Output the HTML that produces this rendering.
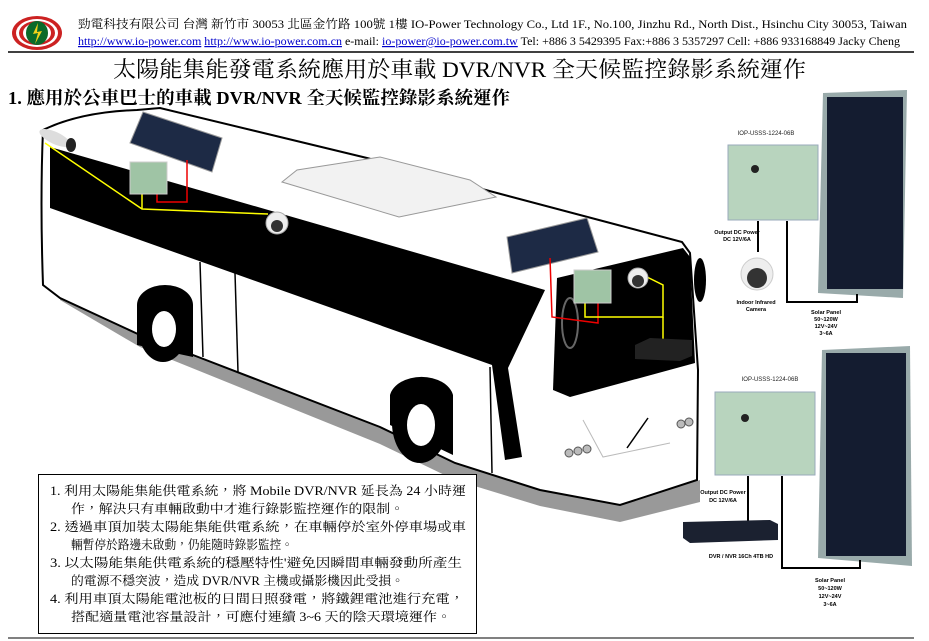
<!DOCTYPE html>
<html><head><meta charset="utf-8"><style>
body{margin:0;background:#fff;width:929px;height:641px;overflow:hidden}
svg{display:block}
.s{font-family:"Liberation Serif","Noto Serif CJK TC",serif}
.a{font-family:"Liberation Sans","Noto Sans CJK TC",sans-serif}
</style></head><body>
<svg width="929" height="641" viewBox="0 0 929 641" xmlns="http://www.w3.org/2000/svg">
<!-- logo -->
<g>
<ellipse cx="37" cy="33" rx="25" ry="17" fill="#c22"/>
<ellipse cx="37" cy="33" rx="21" ry="14" fill="#fff"/>
<ellipse cx="37" cy="33" rx="18" ry="12" fill="#c22"/>
<ellipse cx="37" cy="33" rx="14" ry="10" fill="#fff"/>
<ellipse cx="37" cy="33" rx="11" ry="12" fill="#0a6a2a"/>
<path d="M38 23 L33 34 L38 33 L35 44 L42 31 L37 32 Z" fill="#f3d21a"/>
</g>
<text class="s" x="78" y="28" font-size="12" textLength="829" lengthAdjust="spacingAndGlyphs">勁電科技有限公司  台灣 新竹市 30053 北區金竹路 100號 1樓   IO-Power Technology Co., Ltd    1F., No.100, Jinzhu Rd., North Dist., Hsinchu City 30053, Taiwan</text>
<text class="s" x="78" y="45" font-size="12" textLength="822" lengthAdjust="spacingAndGlyphs"><tspan fill="#00c" text-decoration="underline">http://www.io-power.com</tspan> <tspan fill="#00c" text-decoration="underline">http://www.io-power.com.cn</tspan> e-mail: <tspan fill="#00c" text-decoration="underline">io-power@io-power.com.tw</tspan> Tel: +886 3 5429395 Fax:+886 3 5357297 Cell: +886 933168849   Jacky Cheng</text>
<line x1="8" y1="52" x2="914" y2="52" stroke="#000" stroke-width="1.5"/>
<text class="s" x="113" y="77" font-size="22" textLength="693" lengthAdjust="spacingAndGlyphs">太陽能集能發電系統應用於車載 DVR/NVR 全天候監控錄影系統運作</text>
<text class="s" x="8" y="104" font-size="18" font-weight="bold" textLength="502" lengthAdjust="spacingAndGlyphs">1. 應用於公車巴士的車載 DVR/NVR 全天候監控錄影系統運作</text>

<!-- bus shadow -->
<polygon points="60,300 140,347 380,444 455,480 540,506 620,522 700,502 700,480 620,505 540,490 380,427 140,335 60,297" fill="#999"/>
<!-- bus body -->
<path d="M43,130 Q80,112 137,110 L160,108 L367,158 L497,193 L682,242 L690,253 L698,370 L697,480 L620,505 L540,490 L455,463 L380,427 L193,355 L140,335 L60,298 L43,285 Q40,200 43,130 Z" fill="#fff" stroke="#000" stroke-width="2"/>
<!-- roof hump -->
<polygon points="282,182 297,170 380,157 470,180 496,197 399,217" fill="#f2f2f2" stroke="#999" stroke-width="1"/>
<!-- black window band -->
<polygon points="50,147 545,290 508,368 522,457 505,460 492,365 50,208" fill="#000"/>
<!-- windshield -->
<polygon points="557,278 683,248 690,257 695,363 570,397 553,390" fill="#000"/>
<!-- door lines -->
<line x1="200" y1="262" x2="203" y2="357" stroke="#000" stroke-width="1.5"/>
<line x1="235" y1="273" x2="238" y2="372" stroke="#000" stroke-width="1.5"/>
<line x1="490" y1="367" x2="492" y2="473" stroke="#000" stroke-width="1.5"/>
<!-- wheels -->
<path d="M137 345 L137 305 A28 20 0 0 1 193 305 L193 357 Z" fill="#000"/>
<ellipse cx="163" cy="327" rx="25" ry="35" fill="#000"/>
<ellipse cx="164" cy="329" rx="12" ry="18" fill="#fff"/>
<path d="M390 425 L390 395 A32 22 0 0 1 453 395 L453 455 Z" fill="#000"/>
<ellipse cx="420" cy="423" rx="28" ry="40" fill="#000"/>
<ellipse cx="421" cy="425" rx="14" ry="21" fill="#fff"/>
<!-- mirrors -->
<ellipse cx="570" cy="323" rx="8" ry="25" fill="none" stroke="#666" stroke-width="2"/>
<ellipse cx="700" cy="280" rx="6" ry="22" fill="#000"/>
<!-- front lights -->
<circle cx="569" cy="453" r="4" fill="#bbb" stroke="#555"/><circle cx="578" cy="451" r="4" fill="#bbb" stroke="#555"/><circle cx="587" cy="449" r="4" fill="#bbb" stroke="#555"/>
<circle cx="681" cy="424" r="4" fill="#bbb" stroke="#555"/><circle cx="689" cy="422" r="4" fill="#bbb" stroke="#555"/>
<line x1="627" y1="448" x2="648" y2="418" stroke="#000" stroke-width="1.5"/>
<polyline points="583,420 603,457 670,443" fill="none" stroke="#bbb" stroke-width="1"/>
<!-- solar panels on bus -->
<polygon points="143,112 222,138 212,172 130,143" fill="#1d2a45" stroke="#999"/>
<polygon points="507,237 587,218 598,252 512,273" fill="#1d2a45" stroke="#999"/>
<!-- camera left -->
<ellipse cx="55" cy="138" rx="17" ry="6" fill="#ddd" transform="rotate(25 55 138)"/>
<ellipse cx="71" cy="145" rx="5" ry="7" fill="#222"/>
<!-- wires back -->
<polyline points="45,143 142,209 268,214" fill="none" stroke="#ff0" stroke-width="1.5"/>
<line x1="142" y1="209" x2="142" y2="193" stroke="#ff0" stroke-width="1.5"/>
<polyline points="157,192 157,202 187,202 187,160" fill="none" stroke="#e00" stroke-width="1.5"/>
<rect x="130" y="162" width="37" height="32" fill="#9fc4a5" stroke="#ccc"/>
<circle cx="277" cy="223" r="11" fill="#eee" stroke="#aaa"/><circle cx="277" cy="226" r="6" fill="#333"/>
<!-- wires front -->
<polyline points="550,258 552,317 598,323 598,302" fill="none" stroke="#e00" stroke-width="1.5"/>
<polyline points="585,302 585,317 663,317 663,285 647,277" fill="none" stroke="#ff0" stroke-width="1.5"/>
<line x1="663" y1="317" x2="663" y2="340" stroke="#ff0" stroke-width="1.5"/>
<rect x="574" y="270" width="37" height="33" fill="#9fc4a5" stroke="#ccc"/>
<circle cx="638" cy="278" r="10" fill="#eee" stroke="#aaa"/><circle cx="638" cy="281" r="6" fill="#333"/>
<polygon points="635,345 650,338 692,340 692,356 680,361 635,359" fill="#222"/>

<!-- right top system -->
<polygon points="823,93 907,90 903,298 818,293" fill="#9aa" />
<rect x="827" y="97" width="76" height="192" fill="#141c30"/>
<text class="a" x="766" y="135" font-size="6" text-anchor="middle" fill="#222">IOP-USSS-1224-06B</text>
<rect x="728" y="145" width="90" height="75" fill="#b8d4be" stroke="#9ab"/>
<circle cx="755" cy="169" r="4" fill="#222"/>
<polyline points="758,221 758,252" fill="none" stroke="#000" stroke-width="2"/>
<polyline points="787,221 787,302 857,302 857,294" fill="none" stroke="#000" stroke-width="2"/>
<text class="a" x="737" y="234" font-size="5.5" text-anchor="middle" font-weight="bold">Output DC Power</text>
<text class="a" x="737" y="241" font-size="5.5" text-anchor="middle" font-weight="bold">DC 12V/6A</text>
<circle cx="757" cy="274" r="16" fill="#eee" stroke="#ccc"/><circle cx="757" cy="278" r="10" fill="#333"/>
<text class="a" x="756" y="304" font-size="5.5" text-anchor="middle" font-weight="bold">Indoor Infrared</text>
<text class="a" x="756" y="311" font-size="5.5" text-anchor="middle" font-weight="bold">Camera</text>
<text class="a" x="826" y="314" font-size="5.5" text-anchor="middle" font-weight="bold">Solar Panel</text>
<text class="a" x="826" y="321" font-size="5.5" text-anchor="middle" font-weight="bold">50~120W</text>
<text class="a" x="826" y="328" font-size="5.5" text-anchor="middle" font-weight="bold">12V~24V</text>
<text class="a" x="826" y="335" font-size="5.5" text-anchor="middle" font-weight="bold">3~6A</text>

<!-- right bottom system -->
<polygon points="822,350 910,346 912,566 818,558" fill="#9aa"/>
<rect x="826" y="353" width="80" height="203" fill="#141c30"/>
<text class="a" x="770" y="381" font-size="6" text-anchor="middle" fill="#222">IOP-USSS-1224-06B</text>
<rect x="715" y="392" width="100" height="83" fill="#b8d4be" stroke="#9ab"/>
<circle cx="745" cy="418" r="4" fill="#222"/>
<line x1="748" y1="476" x2="748" y2="522" stroke="#000" stroke-width="2"/>
<polyline points="782,476 782,568 860,568 860,560" fill="none" stroke="#000" stroke-width="2"/>
<text class="a" x="723" y="494" font-size="5.5" text-anchor="middle" font-weight="bold">Output DC Power</text>
<text class="a" x="723" y="502" font-size="5.5" text-anchor="middle" font-weight="bold">DC 12V/6A</text>
<polygon points="683,522 770,520 778,524 778,540 690,543 683,538" fill="#1b2130"/>
<text class="a" x="741" y="558" font-size="5.5" text-anchor="middle" font-weight="bold">DVR / NVR 16Ch 4TB HD</text>
<text class="a" x="830" y="582" font-size="5.5" text-anchor="middle" font-weight="bold">Solar Panel</text>
<text class="a" x="830" y="590" font-size="5.5" text-anchor="middle" font-weight="bold">50~120W</text>
<text class="a" x="830" y="598" font-size="5.5" text-anchor="middle" font-weight="bold">12V~24V</text>
<text class="a" x="830" y="606" font-size="5.5" text-anchor="middle" font-weight="bold">3~6A</text>

<!-- text box -->
<rect x="38.5" y="474.5" width="438" height="159" fill="#fff" stroke="#000"/>
<g class="s" font-size="12.5">
<text x="50" y="495" textLength="416" lengthAdjust="spacingAndGlyphs">1.  利用太陽能集能供電系統，將 Mobile DVR/NVR 延長為 24 小時運</text>
<text x="71" y="513" textLength="333" lengthAdjust="spacingAndGlyphs">作，解決只有車輛啟動中才進行錄影監控運作的限制。</text>
<text x="50" y="531" textLength="416" lengthAdjust="spacingAndGlyphs">2.  透過車頂加裝太陽能集能供電系統，在車輛停於室外停車場或車</text>
<text x="71" y="549" textLength="222" lengthAdjust="spacingAndGlyphs">輛暫停於路邊未啟動，仍能隨時錄影監控。</text>
<text x="50" y="567" textLength="412" lengthAdjust="spacingAndGlyphs">3.  以太陽能集能供電系統的穩壓特性'避免因瞬間車輛發動所產生</text>
<text x="71" y="585" textLength="333" lengthAdjust="spacingAndGlyphs">的電源不穩突波，造成 DVR/NVR 主機或攝影機因此受損。</text>
<text x="50" y="603" textLength="414" lengthAdjust="spacingAndGlyphs">4.  利用車頂太陽能電池板的日間日照發電，將鐵鋰電池進行充電，</text>
<text x="71" y="621" textLength="380" lengthAdjust="spacingAndGlyphs">搭配適量電池容量設計，可應付連續 3~6 天的陰天環境運作。</text>
</g>
<line x1="8" y1="638" x2="914" y2="638" stroke="#000" stroke-width="1"/>
</svg>
</body></html>
